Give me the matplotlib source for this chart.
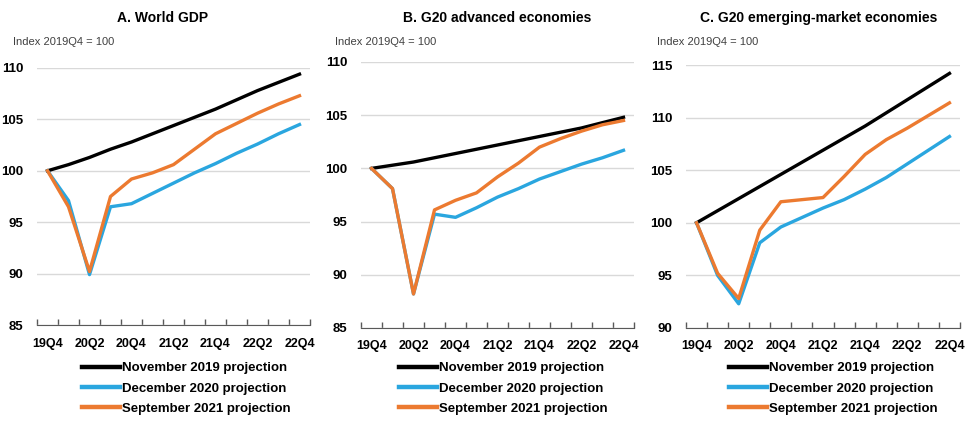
import numpy as np
import matplotlib
matplotlib.use("Agg")
import matplotlib.pyplot as plt
from matplotlib.ticker import FixedLocator

plt.rcParams['font.family'] = ['Liberation Sans', 'DejaVu Sans']

quarters = ["19Q4", "20Q1", "20Q2", "20Q3", "20Q4", "21Q1", "21Q2",
            "21Q3", "21Q4", "22Q1", "22Q2", "22Q3", "22Q4"]
series_names = ["November 2019 projection", "December 2020 projection",
                "September 2021 projection"]
colors = ["#000000", "#2aa6df", "#ec7a30"]

# A. World GDP
world_nov19 = [100, 100.6, 101.3, 102.1, 102.8, 103.6, 104.4, 105.2, 106.0, 106.9, 107.8, 108.6, 109.4]
world_dec20 = [100, 97.1, 89.9, 96.5, 96.8, 97.8, 98.8, 99.8, 100.7, 101.7, 102.6, 103.6, 104.5]
world_sep21 = [100, 96.5, 90.2, 97.5, 99.2, 99.8, 100.6, 102.1, 103.6, 104.6, 105.6, 106.5, 107.3]

# B. G20 advanced economies
adv_nov19 = [100, 100.3, 100.6, 101.0, 101.4, 101.8, 102.2, 102.6, 103.0, 103.4, 103.8, 104.3, 104.8]
adv_dec20 = [100, 98.1, 88.2, 95.7, 95.4, 96.3, 97.3, 98.1, 99.0, 99.7, 100.4, 101.0, 101.7]
adv_sep21 = [100, 98.1, 88.2, 96.1, 97.0, 97.7, 99.2, 100.5, 102.0, 102.8, 103.5, 104.1, 104.5]

# C. G20 emerging-market economies
em_nov19 = [100, 101.15, 102.3, 103.45, 104.6, 105.75, 106.9, 108.05, 109.2, 110.45, 111.7, 112.95, 114.2]
em_dec20 = [100, 95.0, 92.3, 98.1, 99.6, 100.5, 101.4, 102.2, 103.2, 104.3, 105.6, 106.9, 108.2]
em_sep21 = [100, 95.2, 92.8, 99.3, 102.0, 102.2, 102.4, 104.4, 106.5, 107.9, 109.0, 110.2, 111.4]

# title, series, y range, axes rect (px), title centre (px), legend left (px)
panels = [
    ("A. World GDP", [world_nov19, world_dec20, world_sep21], (85, 110),
     (37, 68, 273, 257), 163, 82),
    ("B. G20 advanced economies", [adv_nov19, adv_dec20, adv_sep21], (85, 110),
     (361, 62, 273, 266), 497, 399),
    ("C. G20 emerging-market economies", [em_nov19, em_dec20, em_sep21], (90, 115),
     (686, 65, 274, 263), 819, 729),
]

W, H = 966, 421
fig = plt.figure(figsize=(W / 100, H / 100), dpi=100)
x = np.arange(len(quarters))

for i, (title, data, ylim, rect, title_x, leg_x) in enumerate(panels):
    left, top, width, height = rect
    ax = fig.add_axes([left / W, 1 - (top + height) / H, width / W, height / H])
    for vals, c, name in zip(data, colors, series_names):
        ax.plot(x, vals, color=c, lw=2.4, label=name, solid_joinstyle='round')
    ax.set_xlim(-0.5, len(quarters) - 0.5)
    ax.set_ylim(*ylim)
    ax.set_yticks(np.arange(ylim[0], ylim[1] + 1, 5))
    ax.grid(axis='y', color='#d9d9d9', lw=1)
    ax.set_axisbelow(True)
    for s in ['top', 'right', 'left']:
        ax.spines[s].set_visible(False)
    ax.spines['bottom'].set_color('#595959')
    ax.set_xticks(x[::2])
    ax.set_xticklabels(quarters[::2], fontsize=9, fontweight='bold')
    ax.xaxis.set_minor_locator(FixedLocator(np.arange(-0.5, len(quarters), 1)))
    ax.tick_params(axis='x', which='major', length=0, pad=9)
    ax.tick_params(axis='x', which='minor', length=4, direction='in',
                   color='#595959', width=1)
    ax.tick_params(axis='y', length=0, pad=10, labelsize=9.5)
    for lab in ax.get_yticklabels():
        lab.set_fontweight('bold')

    x0 = 322 * i
    fig.text(title_x / W, 1 - 18 / H, title,
             ha='center', va='center', fontsize=10, fontweight='bold')
    fig.text((x0 + 13) / W, 1 - 42 / H, "Index 2019Q4 = 100",
             ha='left', va='center', fontsize=8, color='#404040')

    leg = ax.legend(loc='upper left', frameon=False,
                    bbox_to_anchor=(leg_x / W, 1 - 362 / H),
                    bbox_transform=fig.transFigure,
                    handlelength=2.9, handletextpad=0.1, labelspacing=0.62,
                    borderpad=0, borderaxespad=0,
                    prop={'size': 9.5, 'weight': 'bold'})
    for line in leg.get_lines():
        line.set_linewidth(3.2)

fig.savefig("out.png", dpi=100)
